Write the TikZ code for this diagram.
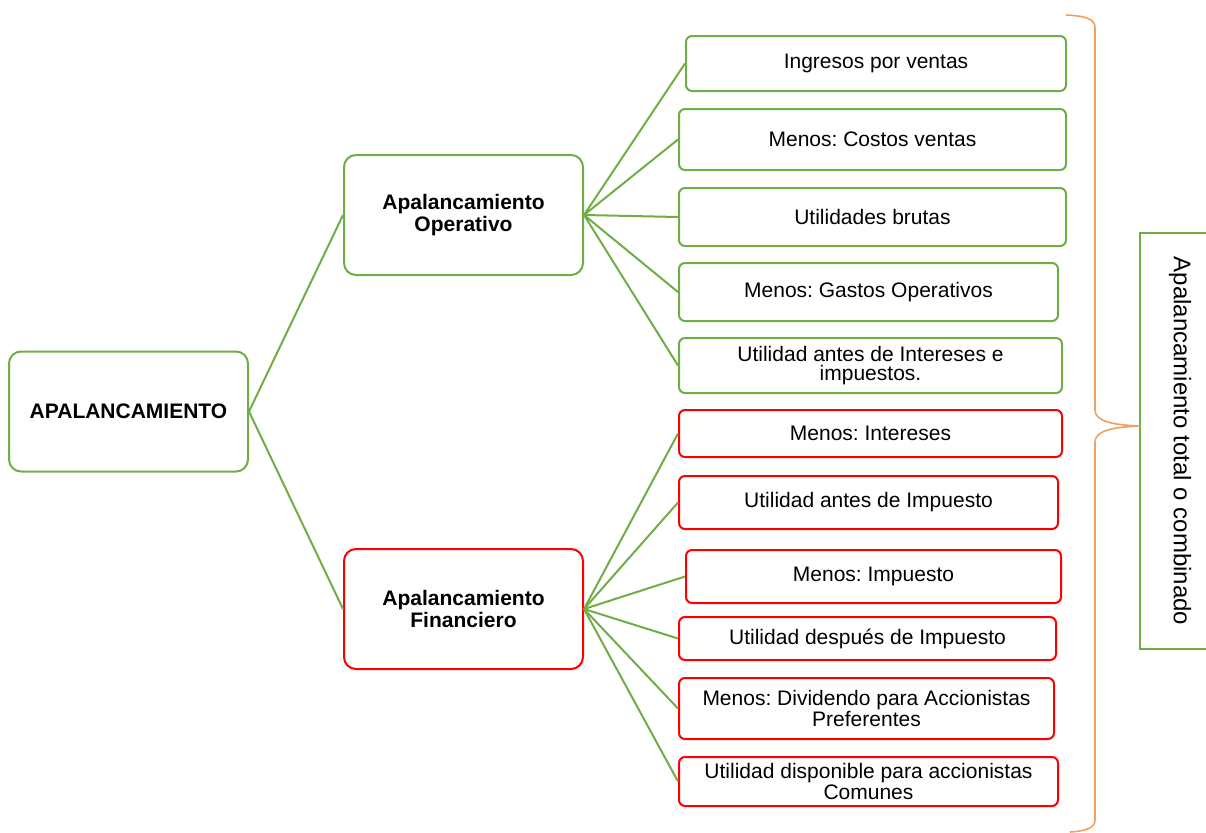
\documentclass[tikz,border=0pt]{standalone}
\usepackage{fontspec}
\setmainfont{Liberation Sans}
\usetikzlibrary{positioning}
\frenchspacing

\definecolor{leafgreen}{HTML}{70AD47}
\definecolor{leafred}{HTML}{FF0000}
\definecolor{braceorange}{HTML}{F0A060}

\begin{document}
\begin{tikzpicture}[
      x=0.5pt, y=-0.5pt,
      every node/.style={font=\fontsize{10.5}{9.5}\selectfont},
      mainbox/.style={draw=leafgreen, rectangle, rounded corners=6pt, line width=1pt, minimum width=119.5pt, minimum height=60pt, align=center, font=\fontsize{10.5}{11}\selectfont\bfseries},
      gleaf/.style={draw=leafgreen, rectangle, rounded corners=3pt, line width=1pt, align=center, inner sep=1pt},
      rleaf/.style={gleaf, draw=leafred},
      link/.style={draw=leafgreen, line width=1pt}
    ]
    \useasboundingbox (0,0) rectangle (1206,832);

    % Nodes
    \node[mainbox] (apal) at (128.5,411.5) {APALANCAMIENTO};
    \node[mainbox] (oper) at (463.5,215) {Apalancamiento\\Operativo};
    \node[mainbox, draw=leafred] (fin) at (463.5,609) {Apalancamiento\\Financiero};

    \node[gleaf, minimum width=190pt, minimum height=27.5pt] (ingresos) at (876,63.5) {Ingresos por ventas};
    \node[gleaf, minimum width=193.5pt, minimum height=30.5pt] (costos) at (872.5,139.5) {Menos: Costos ventas};
    \node[gleaf, minimum width=193.5pt, minimum height=29pt] (brutas) at (872.5,217) {Utilidades brutas};
    \node[gleaf, minimum width=189.5pt, minimum height=29pt] (gastos) at (868.5,292) {Menos: Gastos Operativos};
    \node[gleaf, minimum width=191.5pt, minimum height=27.5pt] (uaii) at (870.5,365.5) {Utilidad antes de Intereses e\\impuestos.};

    \node[rleaf, minimum width=191.5pt, minimum height=23.5pt] (intereses) at (870.5,433.5) {Menos: Intereses};
    \node[rleaf, minimum width=189.5pt, minimum height=26.5pt] (uai) at (868.5,502.5) {Utilidad antes de Impuesto};
    \node[rleaf, minimum width=187.5pt, minimum height=26.5pt] (impuesto) at (873.5,576.5) {Menos: Impuesto};
    \node[rleaf, minimum width=188.5pt, minimum height=21.5pt] (udi) at (867.5,638.5) {Utilidad después de Impuesto};
    \node[rleaf, minimum width=187.5pt, minimum height=30.5pt] (dividendo) at (866.5,708.5) {Menos: Dividendo para Accionistas\\Preferentes};
    \node[rleaf, minimum width=189.5pt, minimum height=24.5pt] (comunes) at (868.5,781.5) {Utilidad disponible para accionistas\\Comunes};

    \node[draw=leafgreen, line width=1pt, rotate=-90, minimum width=208pt, minimum height=40pt, font=\fontsize{12}{14}\selectfont] (total) at (1180,441) {Apalancamiento total o combinado};

    % Connectors
    \draw[link] (apal.east) -- (oper.west);
    \draw[link] (apal.east) -- (fin.west);
    \foreach \leaf in {ingresos, costos, brutas, gastos, uaii}
      \draw[link] (oper.east) -- (\leaf.west);
    \foreach \leaf in {intereses, uai, impuesto, udi, dividendo, comunes}
      \draw[link] (fin.east) -- (\leaf.west);

    % Brace
    \coordinate (bracetip) at (1140,426);
    \draw[braceorange, line width=0.8pt]
      (1066,15) .. controls (1086,16) and (1095,19) .. (1095,28)
      -- (1095,410) .. controls (1095,421) and (1112,425) .. (bracetip)
      .. controls (1112,427) and (1095,431) .. (1095,442)
      -- (1095,820) .. controls (1095,828) and (1086,831) .. (1070,832);
\end{tikzpicture}
\end{document}
